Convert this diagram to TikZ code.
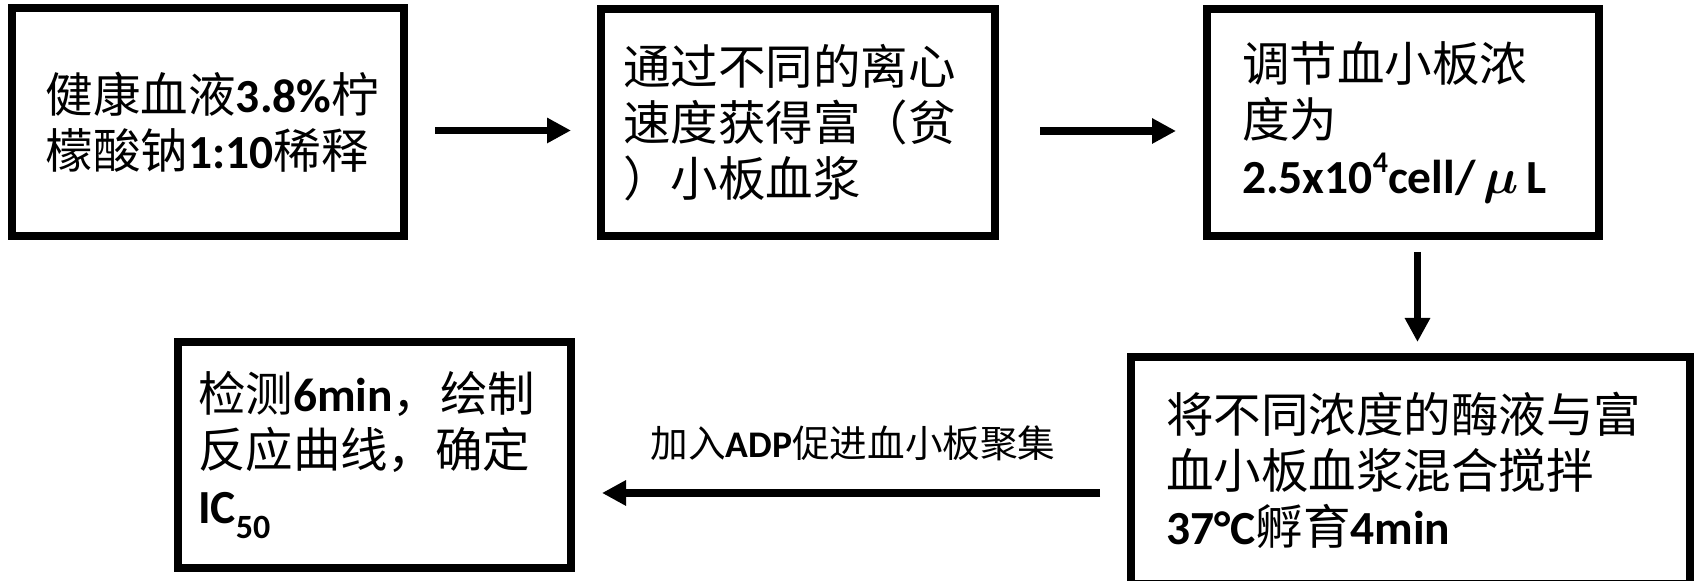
\documentclass[tikz,border=0pt]{standalone}
\usepackage{fontspec}
\setmainfont{Noto Sans CJK SC}
\newfontfamily\latfont{Carlito}
\newcommand{\en}[1]{{\latfont\bfseries #1}}
\usetikzlibrary{arrows.meta}

\begin{document}
\begin{tikzpicture}[x=0.5pt,y=0.5pt,
  procbox/.style={draw=black,line width=4pt,inner sep=0pt,outer sep=0pt,align=left,
    minimum height=113.5pt,font=\fontsize{23.75pt}{28pt}\selectfont},
  flow/.style={black,line width=3.75pt,-{Triangle[length=12pt,width=12pt]}}]
  \useasboundingbox (0,0) rectangle (1694,581);
  % top row
  \node[procbox,minimum width=196pt,minimum height=114pt,text width=162pt] (b1) at (208,458.5)
    {健康血液\en{3.8\%}柠\\檬酸钠\en{1:10}稀释};
  \node[procbox,minimum width=197pt,text width=175pt] (b2) at (798,458.5)
    {通过不同的离心\\速度获得富（贫\\）小板血浆};
  \node[procbox,minimum width=196pt,text width=161pt] (b3) at (1403,458.5)
    {调节血小板浓\\度为\\\en{2.5x10\raisebox{0.45em}{\fontsize{15pt}{15pt}\selectfont 4}cell/\,{\boldmath$\mu$}\,L}};
  % bottom row
  \node[procbox,minimum width=279.5pt,text width=244.5pt] (b4) at (1410.5,110.5)
    {将不同浓度的酶液与富\\血小板血浆混合搅拌\\\en{37°C}孵育\en{4min}};
  \node[procbox,minimum width=196.5pt,minimum height=113pt,text width=176.5pt] (b5) at (374.5,126)
    {检测\en{6min}，绘制\\反应曲线，确定\\\en{IC\raisebox{-0.32em}{\fontsize{17pt}{17pt}\selectfont 50}}};
  \node[font=\fontsize{18.8pt}{22pt}\selectfont] (lbl) at (853,138) {加入\en{ADP}促进血小板聚集};
  % arrows
  \draw[flow] ([shift={(31,-8)}]b1.east) -- ([shift={(-30,-8)}]b2.west);
  \draw[flow] ([shift={(45,-8.5)}]b2.east) -- ([shift={(-31,-8.5)}]b3.west);
  \draw[flow] ([shift={(14.5,-16)}]b3.south) -- ([shift={(7,15)}]b4.north);
  \draw[flow] ([shift={(-31,-22.5)}]b4.west) -- ([shift={(31,-38)}]b5.east);
\end{tikzpicture}
\end{document}
